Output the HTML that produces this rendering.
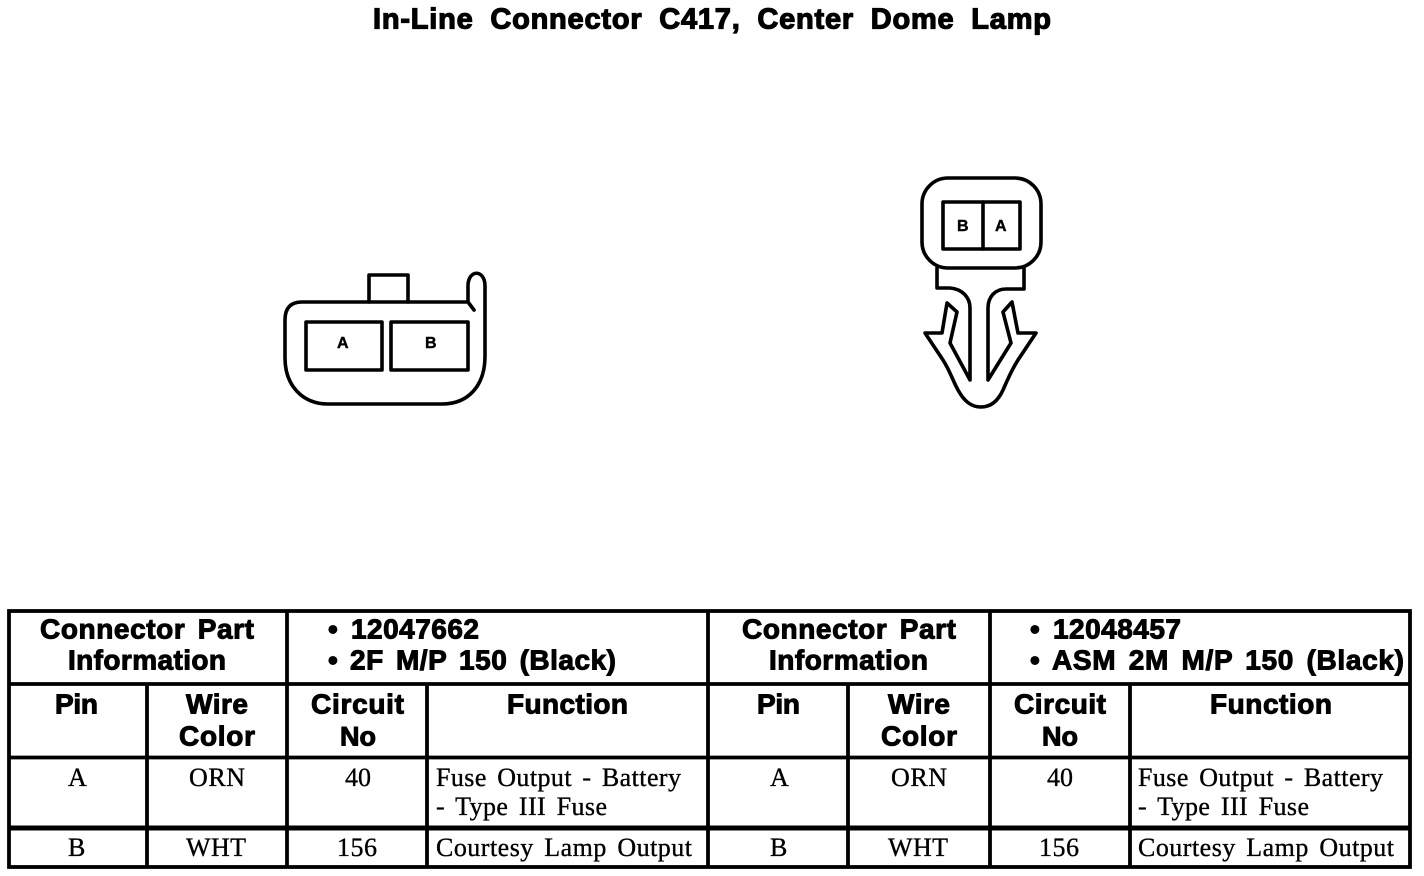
<!DOCTYPE html>
<html>
<head>
<meta charset="utf-8">
<style>
html,body{margin:0;padding:0;background:#fff;width:1424px;height:876px;overflow:hidden}
svg{display:block}
.h{font-family:"Liberation Sans",sans-serif;font-weight:bold;font-size:28px;fill:#000;stroke:#000;stroke-width:1px;word-spacing:4px}
.t{font-family:"Liberation Serif",serif;font-size:26px;fill:#000;stroke:#000;stroke-width:.35px;word-spacing:3.500px}
.l{font-family:"Liberation Sans",sans-serif;font-weight:bold;font-size:16px;fill:#000;stroke:#000;stroke-width:.4px}
.s{fill:none;stroke:#000;stroke-width:3.6px;stroke-linejoin:round;stroke-linecap:round}
.g{fill:none;stroke:#000;stroke-width:3.8px}
</style>
</head>
<body>
<svg width="1424" height="876" viewBox="0 0 1424 876" xmlns="http://www.w3.org/2000/svg">
<text class="h" x="373" y="28.500" textLength="678" lengthAdjust="spacing" style="font-size:29px;word-spacing:8px;stroke-width:1.200px">In-Line Connector C417, Center Dome Lamp</text>

<!-- left connector -->
<path class="s" d="M369 302V275H408V302"/>
<path class="s" d="M474 310L468 302H302Q285 302 285 320V358C285 386 303 404 328 404H442C468 404 485 386 485 356V286C485 269 468 269 468 286V302"/>
<rect class="s" x="306" y="322" width="76" height="48"/>
<rect class="s" x="391" y="322" width="77" height="48"/>
<text class="l" x="337" y="348">A</text>
<text class="l" x="425" y="348">B</text>

<!-- right connector -->
<rect class="s" x="922" y="178" width="119" height="90" rx="26" ry="26"/>
<rect class="s" x="943" y="202" width="77" height="47"/>
<path class="s" d="M983 202V249"/>
<text class="l" x="957" y="231">B</text>
<text class="l" x="995" y="231">A</text>
<path class="s" d="M937 268V288H950C962 289 970 297 970 308V380L950 343L957 312L947 303L942 333H925L943 360C950 371 953 381 958 390C964 401 971 407 981 407C991 407 998 401 1003 390C1007 381 1011 371 1018 360L1036 333H1018L1012 302L1003 312L1011 343L988 380V308C988 297 995 289 1006 289H1024V268"/>

<!-- table grid -->
<rect class="g" x="9" y="611" width="1401" height="256"/>
<path class="g" d="M9 684H1410M9 757.500H1410"/>
<path class="g" d="M287 611V867M708 611V867M990 611V867M147 684V867M427 684V867M848 684V867M1130 684V867"/>
<path d="M9 828H1410" stroke="#000" stroke-width="5" fill="none"/>

<!-- left table -->
<text class="h" x="40" y="638.500" textLength="214">Connector Part</text>
<text class="h" x="68" y="669.500" textLength="158">Information</text>
<text class="h" x="328" y="638.500">•</text>
<text class="h" x="351" y="638.500" textLength="128">12047662</text>
<text class="h" x="328" y="669.500">•</text>
<text class="h" x="350" y="669.500" textLength="266">2F M/P 150 (Black)</text>
<text class="h" x="55" y="713.500" textLength="43">Pin</text>
<text class="h" x="186" y="713.500" textLength="62">Wire</text>
<text class="h" x="179" y="745.500" textLength="76">Color</text>
<text class="h" x="311" y="713.500" textLength="93">Circuit</text>
<text class="h" x="340" y="745.500" textLength="36" style="font-size:27px">No</text>
<text class="h" x="507" y="713.500" textLength="121">Function</text>
<text class="t" x="68" y="786" textLength="18">A</text>
<text class="t" x="189" y="786" textLength="56">ORN</text>
<text class="t" x="345" y="786" textLength="26">40</text>
<text class="t" x="436" y="786" textLength="245">Fuse Output - Battery</text>
<text class="t" x="436" y="815" textLength="171">- Type III Fuse</text>
<text class="t" x="68" y="856" textLength="16">B</text>
<text class="t" x="186" y="856" textLength="60">WHT</text>
<text class="t" x="337" y="856" textLength="40">156</text>
<text class="t" x="436" y="856" textLength="256">Courtesy Lamp Output</text>

<!-- right table -->
<text class="h" x="742" y="638.500" textLength="214">Connector Part</text>
<text class="h" x="769" y="669.500" textLength="159">Information</text>
<text class="h" x="1030" y="638.500">•</text>
<text class="h" x="1053" y="638.500" textLength="128">12048457</text>
<text class="h" x="1030" y="669.500">•</text>
<text class="h" x="1052" y="669.500" textLength="352">ASM 2M M/P 150 (Black)</text>
<text class="h" x="757" y="713.500" textLength="43">Pin</text>
<text class="h" x="888" y="713.500" textLength="62">Wire</text>
<text class="h" x="881" y="745.500" textLength="76">Color</text>
<text class="h" x="1014" y="713.500" textLength="92">Circuit</text>
<text class="h" x="1042" y="745.500" textLength="36" style="font-size:27px">No</text>
<text class="h" x="1210" y="713.500" textLength="122">Function</text>
<text class="t" x="770" y="786" textLength="18">A</text>
<text class="t" x="891" y="786" textLength="56">ORN</text>
<text class="t" x="1047" y="786" textLength="26">40</text>
<text class="t" x="1138" y="786" textLength="245">Fuse Output - Battery</text>
<text class="t" x="1138" y="815" textLength="171">- Type III Fuse</text>
<text class="t" x="770" y="856" textLength="16">B</text>
<text class="t" x="888" y="856" textLength="60">WHT</text>
<text class="t" x="1039" y="856" textLength="40">156</text>
<text class="t" x="1138" y="856" textLength="256">Courtesy Lamp Output</text>
</svg>
</body>
</html>
